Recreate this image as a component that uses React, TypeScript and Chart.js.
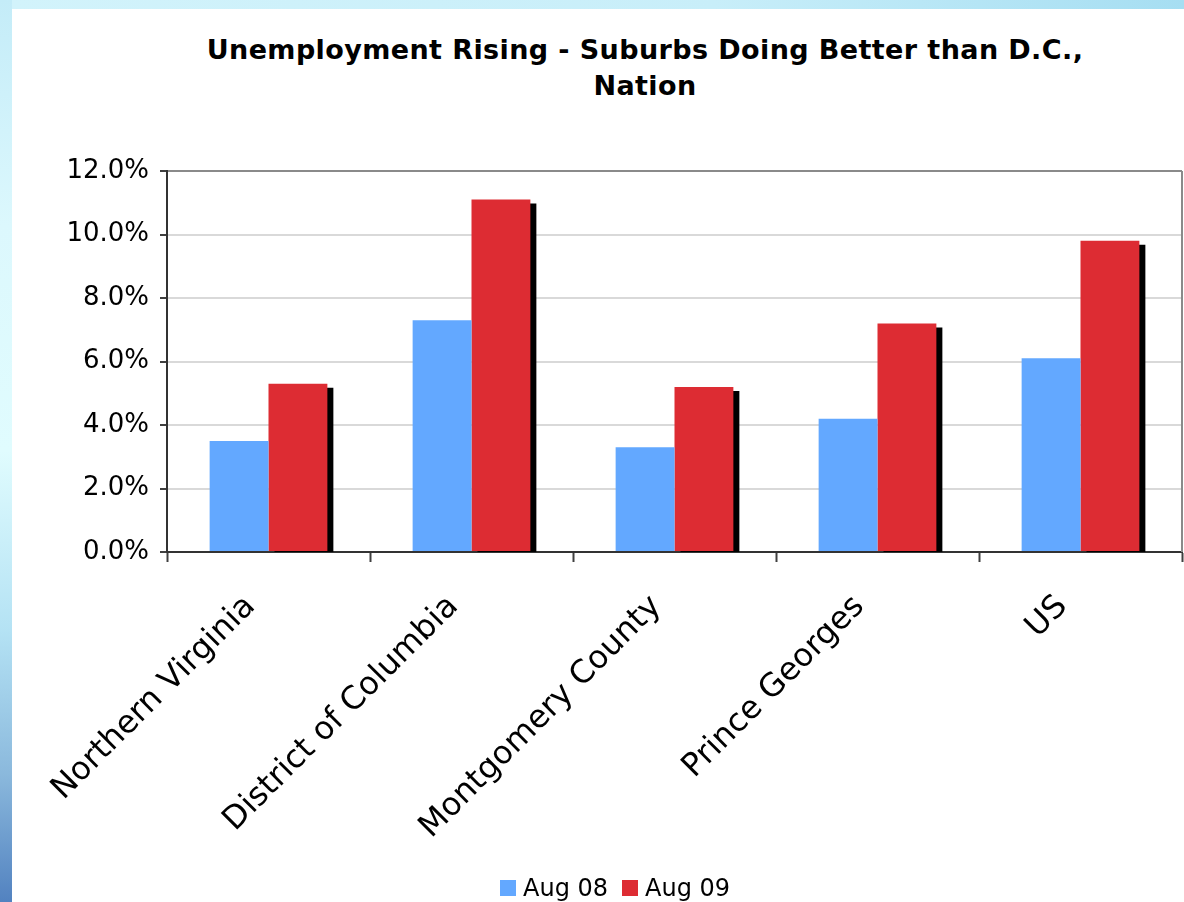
import React, { useEffect, useRef } from "react";
import { Chart, registerables } from "chart.js";

Chart.register(...registerables);

// Unemployment rate by area, August 2008 vs August 2009 (percent)
const categories = [
  "Northern Virginia",
  "District of Columbia",
  "Montgomery County",
  "Prince Georges",
  "US",
];
const aug08 = [3.5, 7.3, 3.3, 4.2, 6.1];
const aug09 = [5.3, 11.1, 5.2, 7.2, 9.8];
const seriesNames = ["Aug 08", "Aug 09"];
const titleLines = ["Unemployment Rising - Suburbs Doing Better than D.C.,", "Nation"];
const yMin = 0;
const yMax = 12;
const yStep = 2;

const seriesColors = ["#63a8ff", "#dd2c33"];
const FONT = "'DejaVu Sans', Verdana, sans-serif";

// Drop shadow behind the second series' bars, kept inside the plot area
const barShadow = {
  id: "barShadow",
  beforeDatasetDraw(chart: any, args: any) {
    if (args.index !== 1) return;
    const { ctx, chartArea } = chart;
    ctx.save();
    ctx.beginPath();
    ctx.rect(chartArea.left, chartArea.top, chartArea.width, chartArea.height);
    ctx.clip();
    ctx.shadowColor = "#000000";
    ctx.shadowOffsetX = 6;
    ctx.shadowOffsetY = 4;
    ctx.shadowBlur = 0;
  },
  afterDatasetDraw(chart: any, args: any) {
    if (args.index !== 1) return;
    chart.ctx.restore();
  },
};

// Grey frame line on the right side of the plot area
const plotFrame = {
  id: "plotFrame",
  beforeDatasetsDraw(chart: any) {
    const { ctx, chartArea } = chart;
    ctx.save();
    ctx.strokeStyle = "#8a8a8a";
    ctx.lineWidth = 2;
    ctx.beginPath();
    ctx.moveTo(chartArea.right, chartArea.top);
    ctx.lineTo(chartArea.right, chartArea.bottom);
    ctx.stroke();
    ctx.restore();
  },
};

export default function App() {
  const canvasRef = useRef<HTMLCanvasElement | null>(null);

  useEffect(() => {
    const canvas = canvasRef.current;
    if (!canvas) return;
    const chart = new Chart(canvas, {
      type: "bar",
      data: {
        labels: categories,
        datasets: [
          {
            label: seriesNames[0],
            data: aug08,
            backgroundColor: seriesColors[0],
            borderWidth: 0,
            categoryPercentage: 0.58,
            barPercentage: 1.0,
          },
          {
            label: seriesNames[1],
            data: aug09,
            backgroundColor: seriesColors[1],
            borderWidth: 0,
            categoryPercentage: 0.58,
            barPercentage: 1.0,
          },
        ],
      },
      options: {
        responsive: false,
        animation: false,
        layout: { padding: { top: 171, right: 2, bottom: 0, left: 0 } },
        plugins: {
          legend: { display: false },
          title: { display: false },
          tooltip: { enabled: false },
        },
        scales: {
          x: {
            offset: true,
            grid: {
              offset: true,
              drawOnChartArea: false,
              tickLength: 10,
              tickColor: "#404040",
              tickWidth: 2,
            },
            border: { color: "#333333", width: 2 },
            ticks: {
              autoSkip: false,
              minRotation: 45,
              maxRotation: 45,
              padding: 26,
              labelOffset: -18,
              color: "#000000",
              font: { family: FONT, size: 32 },
            },
            afterFit: (scale: any) => {
              scale.height = 350;
            },
          },
          y: {
            min: yMin,
            max: yMax,
            ticks: {
              stepSize: yStep,
              padding: 11,
              color: "#000000",
              font: { family: FONT, size: 26 },
              callback: (v: any) => Number(v).toFixed(1) + "%",
            },
            grid: {
              color: (ctx: any) =>
                ctx.tick && ctx.tick.value === yMax ? "#8a8a8a" : "#d9d9d9",
              lineWidth: 2,
              tickLength: 7,
              tickColor: "#404040",
              tickWidth: 2,
            },
            border: { color: "#333333", width: 2 },
            afterFit: (scale: any) => {
              scale.width = 167;
            },
          },
        },
      },
      plugins: [barShadow, plotFrame],
    });
    return () => chart.destroy();
  }, []);

  return (
    <div
      style={{
        position: "fixed",
        left: 0,
        top: 0,
        width: 1184,
        height: 902,
        overflow: "hidden",
        background: "#ffffff",
        fontFamily: FONT,
      }}
    >
      {/* left decorative strip */}
      <div
        style={{
          position: "absolute",
          left: 0,
          top: 0,
          width: 12,
          height: 902,
          background:
            "linear-gradient(180deg, #c4ecf8 0%, #dcf8fd 25%, #e0fcfe 50%, #b4e2f4 70%, #8ab8dc 86%, #5282c0 100%)",
        }}
      />
      {/* top decorative strip */}
      <div
        style={{
          position: "absolute",
          left: 12,
          top: 0,
          width: 1172,
          height: 9,
          background: "linear-gradient(90deg, #d2f3fb 0%, #c8eef9 60%, #a6def2 100%)",
        }}
      />
      <div
        style={{
          position: "absolute",
          left: 106,
          right: 0,
          top: 32,
          textAlign: "center",
          fontWeight: "bold",
          fontSize: 27,
          letterSpacing: 0.4,
          lineHeight: "36px",
          color: "#000000",
          whiteSpace: "nowrap",
        }}
      >
        {titleLines.map((line) => (
          <div key={line}>{line}</div>
        ))}
      </div>
      <canvas
        ref={canvasRef}
        width={1184}
        height={902}
        style={{ position: "absolute", left: 0, top: 0 }}
      />
      <div
        style={{
          position: "absolute",
          left: 500,
          top: 872,
          height: 32,
          display: "flex",
          alignItems: "center",
          fontSize: 24,
          lineHeight: "32px",
          color: "#000000",
          whiteSpace: "nowrap",
        }}
      >
        {seriesNames.map((name, i) => (
          <div key={name} style={{ display: "flex", alignItems: "center", marginRight: 14 }}>
            <span
              style={{
                display: "inline-block",
                width: 16,
                height: 16,
                background: seriesColors[i],
                marginRight: 7,
              }}
            />
            <span>{name}</span>
          </div>
        ))}
      </div>
    </div>
  );
}
